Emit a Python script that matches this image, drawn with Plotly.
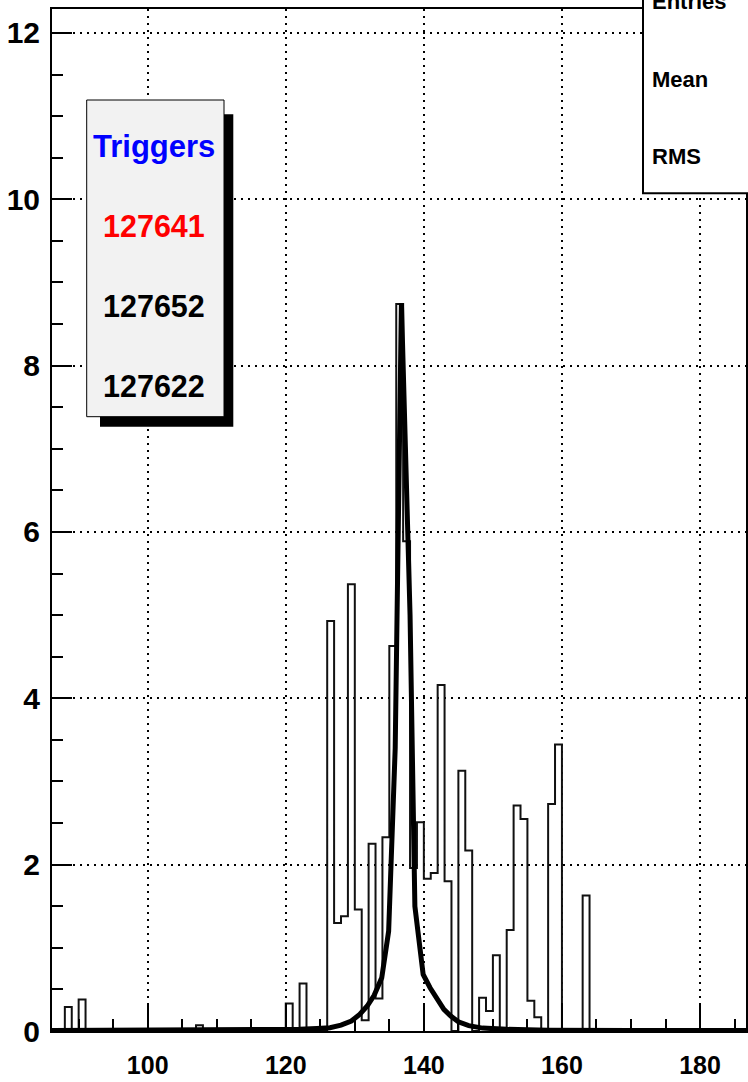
import plotly.graph_objects as go

# ---------------- data ----------------
# histogram (bin width 1): left edge of each non-empty bin and its content
bin_lo = [88, 90, 107, 120, 122, 126, 127, 128, 129, 130, 131, 132, 133, 134, 135,
          136, 137, 138, 139, 140, 141, 142, 143, 145, 146, 148, 149, 150, 152, 153,
          154, 155, 156, 158, 159, 163]
bin_val = [0.29, 0.38, 0.07, 0.33, 0.57, 4.93, 1.30, 1.38, 5.37, 1.46, 0.13, 2.25, 0.39, 2.33, 4.63,
           8.74, 5.89, 1.96, 2.51, 1.83, 1.90, 4.16, 1.80, 3.13, 2.17, 0.40, 0.24, 0.91, 1.215, 2.71,
           2.55, 0.365, 0.165, 2.73, 3.445, 1.63]
hist_first_edge = 86
hist_last_edge = 187

# fitted curve, points
curve_x = [86.14, 100, 110, 118, 122, 124.5, 126.4, 128.0, 129.5, 130.7, 131.8, 132.8, 133.9,
           134.9, 135.85, 136.75, 138.0, 138.7, 139.9, 140.9, 141.9, 142.9, 143.9, 145.0,
           146.5, 148.5, 152, 158, 170, 186.66]
curve_y = [0.005, 0.007, 0.01, 0.015, 0.02, 0.03, 0.04, 0.07, 0.12, 0.2, 0.3, 0.43, 0.64,
           1.2, 3.4, 8.75, 5.0, 1.5, 0.68, 0.52, 0.38, 0.26, 0.18, 0.11,
           0.065, 0.035, 0.02, 0.01, 0.007, 0.005]

x_range = [86.14, 186.66]
y_range = [0, 12.288]
x_ticks = [100, 120, 140, 160, 180]
y_ticks = [0, 2, 4, 6, 8, 10, 12]

legend_title = "Triggers"
legend_runs = ["127641", "127652", "127622"]
legend_colors = ["#ff0000", "#000000", "#000000"]
stats_labels = ["Entries", "Mean", "RMS"]

# ---------------- build histogram step line ----------------
lookup = dict(zip(bin_lo, bin_val))
edges = list(range(hist_first_edge, hist_last_edge + 1))
counts = [lookup.get(e, 0.0) for e in edges[:-1]]
step_x = edges
step_y = counts + [counts[-1]]

# ---------------- layout geometry (pixels) ----------------
W, H = 748, 1082
L, R, T, B = 52, 2, 9, 51
PW, PH = W - L - R, H - T - B


def px(xp):
    return (xp - L) / PW


def py(yp):
    return 1 - (yp - T) / PH


fig = go.Figure()
fig.add_trace(go.Scatter(x=step_x, y=step_y, mode="lines", line_shape="hv",
                         line=dict(color="#111111", width=2), hoverinfo="skip",
                         showlegend=False))
fig.add_trace(go.Scatter(x=curve_x, y=curve_y, mode="lines",
                         line=dict(color="black", width=5), hoverinfo="skip",
                         showlegend=False))

shapes = [
    # legend shadow
    dict(type="rect", xref="paper", yref="paper", x0=px(100), x1=px(233.3),
         y0=py(426.7), y1=py(114.3), fillcolor="black", line=dict(width=0), layer="above"),
    # legend box
    dict(type="rect", xref="paper", yref="paper", x0=px(86.7), x1=px(224),
         y0=py(416.7), y1=py(100), fillcolor="#f2f2f2", line=dict(color="black", width=1),
         layer="above"),
    # stats box
    dict(type="rect", xref="paper", yref="paper", x0=px(643), x1=px(770),
         y0=py(193.3), y1=py(-20), fillcolor="white", line=dict(color="black", width=2),
         layer="above"),
]

annotations = []
annotations.append(dict(text=legend_title, xref="paper", yref="paper", x=px(153.5), y=py(146.5),
                        xanchor="center", yanchor="middle", showarrow=False,
                        font=dict(family="Liberation Sans", size=31, color="#0000ff", weight="bold")))
for i, (t, c) in enumerate(zip(legend_runs, legend_colors)):
    annotations.append(dict(text=t, xref="paper", yref="paper", x=px(153.5), y=py(226.2 + 80 * i),
                            xanchor="center", yanchor="middle", showarrow=False,
                            font=dict(family="Liberation Sans", size=30.5, color=c, weight="bold")))
for i, t in enumerate(stats_labels):
    annotations.append(dict(text=t, xref="paper", yref="paper", x=px(650), y=py(2 + 77 * i),
                            xanchor="left", yanchor="middle", showarrow=False,
                            font=dict(family="Liberation Sans", size=22, color="black", weight="bold")))

fig.update_layout(
    width=W, height=H,
    margin=dict(l=L, r=R, t=T, b=B, pad=0, autoexpand=False),
    paper_bgcolor="white", plot_bgcolor="white",
    shapes=shapes, annotations=annotations,
    showlegend=False,
)

fig.update_xaxes(
    automargin=False,
    range=x_range, tickmode="array", tickvals=x_ticks,
    ticks="inside", ticklen=28, tickwidth=2, tickcolor="black",
    minor=dict(dtick=5, tick0=0, ticks="inside", ticklen=12, tickwidth=2, tickcolor="black",
               showgrid=False),
    showgrid=True, gridcolor="black", griddash="2px,5px", gridwidth=1.5,
    showline=True, linecolor="black", linewidth=2, mirror=True, zeroline=False,
    tickfont=dict(family="Liberation Sans", size=25, color="black", weight="bold"),
    ticklabelstandoff=11,
)
fig.update_yaxes(
    automargin=False,
    range=y_range, tickmode="array", tickvals=y_ticks,
    ticks="inside", ticklen=20, tickwidth=2, tickcolor="black",
    minor=dict(dtick=0.5, tick0=0, ticks="inside", ticklen=11, tickwidth=2, tickcolor="black",
               showgrid=False),
    showgrid=True, gridcolor="black", griddash="2px,5px", gridwidth=1.5,
    showline=True, linecolor="black", linewidth=2, mirror=True, zeroline=False,
    tickfont=dict(family="Liberation Sans", size=30, color="black", weight="bold"),
    ticklabelstandoff=4,
)

fig.write_html("out.html", config={"displayModeBar": False},
               post_script="document.body.style.margin='0';document.body.style.overflow='hidden';")
